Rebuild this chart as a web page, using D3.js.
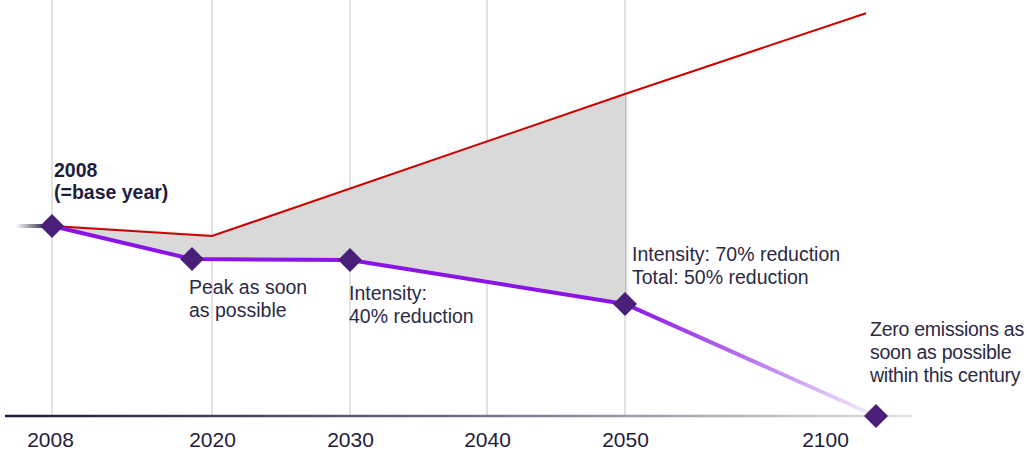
<!DOCTYPE html>
<html>
<head>
<meta charset="utf-8">
<script src="https://cdn.jsdelivr.net/npm/d3@7"></script>
<style>
  html, body { margin: 0; padding: 0; background: #fff; }
  svg { display: block; font-family: "Liberation Sans", Arial, sans-serif; }
</style>
</head>
<body>
<svg id="chart" width="1027" height="452"></svg>
<script>
// ---- data ----
const tickYears = [2008, 2020, 2030, 2040, 2050, 2100];
const tickLabels = ["2008", "2020", "2030", "2040", "2050", "2100"];
const gridYears = [2008, 2020, 2030, 2040, 2050];

// business-as-usual (red) emissions index, 2008 = 100
const bauYears = [2008, 2020, 2050, 2098];
const bauValues = [100, 94.7, 169.5, 212];

// target pathway (purple) emissions index
const pathYears = [2008, 2018.5, 2030, 2050, 2100];
const pathValues = [100, 82.6, 82.1, 59, 0];

const labelBase = ["2008", "(=base year)"];
const labelPeak = ["Peak as soon", "as possible"];
const label2030 = ["Intensity:", "40% reduction"];
const label2050 = ["Intensity: 70% reduction", "Total: 50% reduction"];
const label2100 = ["Zero emissions as", "soon as possible", "within this century"];

// ---- scales ----
const svg = d3.select("#chart");
const x = d3.scaleLinear()
  .domain([2008, 2020, 2030, 2040, 2050, 2100])
  .range([52, 212, 350, 487, 625, 876]);
const y = d3.scaleLinear().domain([0, 100]).range([416, 226]);

const bau = bauYears.map((yr, i) => [yr, bauValues[i]]);
const path = pathYears.map((yr, i) => [yr, pathValues[i]]);

const defs = svg.append("defs");
const gAxis = defs.append("linearGradient").attr("id", "axisGrad")
  .attr("gradientUnits", "userSpaceOnUse").attr("x1", 5).attr("x2", 912).attr("y1", 0).attr("y2", 0);
gAxis.append("stop").attr("offset", 0).attr("stop-color", "#1c1a38");
gAxis.append("stop").attr("offset", 0.5).attr("stop-color", "#6e6c80");
gAxis.append("stop").attr("offset", 1).attr("stop-color", "#e2e2e6");

const gStub = defs.append("linearGradient").attr("id", "stubGrad")
  .attr("gradientUnits", "userSpaceOnUse").attr("x1", 16).attr("x2", 46).attr("y1", 0).attr("y2", 0);
gStub.append("stop").attr("offset", 0).attr("stop-color", "#2a2840").attr("stop-opacity", 0);
gStub.append("stop").attr("offset", 1).attr("stop-color", "#2a2840").attr("stop-opacity", 1);

const gFade = defs.append("linearGradient").attr("id", "fadeGrad")
  .attr("gradientUnits", "userSpaceOnUse").attr("x1", x(2050)).attr("x2", x(2100)).attr("y1", 0).attr("y2", 0);
gFade.append("stop").attr("offset", 0).attr("stop-color", "#8a14e6");
gFade.append("stop").attr("offset", 0.5).attr("stop-color", "#b777ee");
gFade.append("stop").attr("offset", 1).attr("stop-color", "#f6f0fc");

const shadow = defs.append("filter").attr("id", "shadow").attr("x", "-5%").attr("y", "-5%").attr("width", "110%").attr("height", "110%");
shadow.append("feDropShadow").attr("dx", 2).attr("dy", -1).attr("stdDeviation", 1.2)
  .attr("flood-color", "#000").attr("flood-opacity", 0.18);

// ---- grid ----
svg.append("g").selectAll("line").data(gridYears).join("line")
  .attr("x1", d => x(d)).attr("x2", d => x(d))
  .attr("y1", 0).attr("y2", y(0))
  .attr("stroke", "#d9d9d9").attr("stroke-width", 1.5);

// ---- gap area (between red and purple, up to 2050) ----
const line = d3.line().x(d => x(d[0])).y(d => y(d[1]));
const redPart = bau.filter(d => d[0] <= 2050);
const purplePart = path.filter(d => d[0] <= 2050).slice().reverse();
svg.append("path")
  .attr("d", line(redPart.concat(purplePart)) + "Z")
  .attr("fill", "#d9d9d9")
  .attr("filter", "url(#shadow)");

// ---- red BAU line ----
svg.append("path").attr("d", line(bau))
  .attr("fill", "none").attr("stroke", "#cc0000").attr("stroke-width", 2);

// ---- purple pathway ----
svg.append("path").attr("d", line(path.filter(d => d[0] <= 2050)))
  .attr("fill", "none").attr("stroke", "#8a14e6").attr("stroke-width", 4).attr("stroke-linejoin", "round");
svg.append("path").attr("d", line(path.filter(d => d[0] >= 2050)))
  .attr("fill", "none").attr("stroke", "url(#fadeGrad)").attr("stroke-width", 4);

// left stub
svg.append("line").attr("x1", 16).attr("x2", x(2008)).attr("y1", y(100)).attr("y2", y(100))
  .attr("stroke", "url(#stubGrad)").attr("stroke-width", 4);

// ---- axis ----
svg.append("rect").attr("x", 5).attr("y", y(0) - 1.25).attr("width", 907).attr("height", 2.5)
  .attr("fill", "url(#axisGrad)");

const axis = d3.axisBottom(x)
  .tickValues(tickYears)
  .tickFormat((d, i) => tickLabels[i])
  .tickSize(0).tickPadding(0);
const ax = svg.append("g").attr("transform", `translate(0,${y(0)})`).call(axis);
ax.select(".domain").remove();
ax.selectAll("text")
  .attr("y", 31).attr("dy", 0)
  .attr("font-family", "Liberation Sans, Arial, sans-serif")
  .attr("font-size", 21).attr("fill", "#1f1d3d")
  .attr("dx", d => d === 2100 ? -51 : (d === 2008 ? -2 : 0));

// ---- diamonds ----
const sym = d3.symbol().type(d3.symbolSquare).size(288);
svg.append("g").selectAll("path").data(path).join("path")
  .attr("d", sym)
  .attr("transform", d => `translate(${x(d[0])},${y(d[1])}) rotate(45)`)
  .attr("fill", "#4a1f7a");

// ---- annotations ----
function annotate(lines, tx, ty, opts = {}) {
  const t = svg.append("text")
    .attr("x", tx).attr("y", ty)
    .attr("font-size", opts.size || 19.5)
    .attr("font-weight", opts.bold ? "bold" : "normal")
    .attr("fill", opts.color || "#2b2a45");
  if (opts.tight) t.attr("letter-spacing", -0.25);
  lines.forEach((s, i) => {
    t.append("tspan").attr("x", tx).attr("dy", i === 0 ? 0 : (opts.lh || 23)).text(s);
  });
}
annotate(labelBase, 54, 177, { bold: true, color: "#1f1d3d", lh: 22 });
annotate(labelPeak, 189, 294);
annotate(label2030, 349, 300);
annotate(label2050, 632, 261);
annotate(label2100, 870, 336, { tight: true });
</script>
</body>
</html>
